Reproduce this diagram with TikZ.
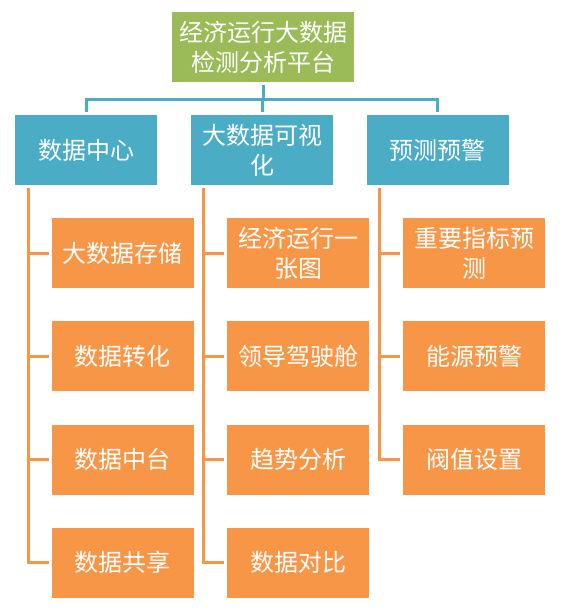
\documentclass[tikz,border=0pt]{standalone}
\usepackage{fontspec}
\newfontfamily\cjk{Noto Sans CJK SC}
\usepackage{tikz}
\usetikzlibrary{positioning,calc}
\definecolor{olivegreen}{HTML}{9BBB59}
\definecolor{aquablue}{HTML}{4BACC6}
\definecolor{lightorange}{HTML}{F79646}

\begin{document}
\begin{tikzpicture}[x=1pt, y=-1pt,
  box/.style={text=white, align=center, outer sep=3pt, inner sep=2pt,
              minimum height=70pt, font=\cjk\fontsize{24}{30}\selectfont},
  topbox/.style={box, fill=olivegreen, minimum width=182pt},
  catbox/.style={box, fill=aquablue, minimum width=142pt},
  itembox/.style={box, fill=lightorange, minimum width=142pt},
  blueline/.style={draw=aquablue, line width=3pt},
  orangeline/.style={draw=lightorange, line width=3pt}]
  \useasboundingbox (0,0) rectangle (565,610);

  \node[topbox] (top) at (263,47) {经济运行大数据\\检测分析平台};

  \node[catbox] (c1) at (86,150) {数据中心};
  \node[catbox] (c2) at (262,150) {大数据可视\\化};
  \node[catbox] (c3) at (437.5,150) {预测预警};

  \node[itembox] (c1a) at (122.5,253) {大数据存储};
  \node[itembox] (c1b) at (122.5,356) {数据转化};
  \node[itembox] (c1c) at (122.5,459.5) {数据中台};
  \node[itembox] (c1d) at (122.5,562.5) {数据共享};

  \node[itembox] (c2a) at (298,253) {经济运行一\\张图};
  \node[itembox] (c2b) at (298,356) {领导驾驶舱};
  \node[itembox] (c2c) at (298,459.5) {趋势分析};
  \node[itembox] (c2d) at (298,562.5) {数据对比};

  \node[itembox] (c3a) at (474,253) {重要指标预\\测};
  \node[itembox] (c3b) at (474,356) {能源预警};
  \node[itembox] (c3c) at (474,459.5) {阀值设置};

  \draw[blueline] (top.south) -- ++(0,14) -| (c1.north);
  \draw[blueline] (top.south) -- ++(0,14) -| (c2.north);
  \draw[blueline] (top.south) -- ++(0,14) -| (c3.north);

  \foreach \i in {a,b,c,d}
    \draw[orangeline] ([xshift=16pt]c1.south west) |- (c1\i.west);
  \foreach \i in {a,b,c,d}
    \draw[orangeline] ([xshift=15pt]c2.south west) |- (c2\i.west);
  \foreach \i in {a,b,c}
    \draw[orangeline] ([xshift=16pt]c3.south west) |- (c3\i.west);
\end{tikzpicture}
\end{document}
